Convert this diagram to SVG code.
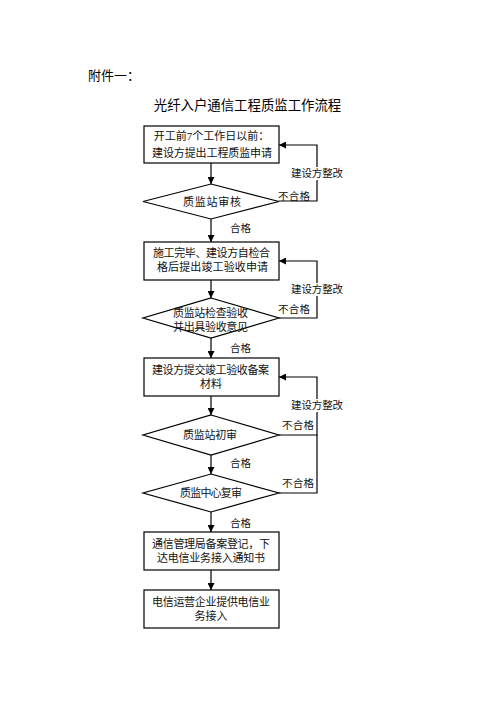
<svg xmlns="http://www.w3.org/2000/svg" width="496" height="702" viewBox="0 0 496 702">
<defs>
<style>
.node rect, .node polygon { fill: #fff; stroke: #000; stroke-width: 1.2; }
.t { font-family: "Liberation Serif", "Noto Sans CJK SC", serif; font-size: 11px; fill: #111; text-anchor: middle; }
.lbl { font-family: "Liberation Serif", "Noto Sans CJK SC", serif; font-size: 10.5px; fill: #111; }
.hd { font-family: "Noto Sans CJK SC", sans-serif; fill: #000; }
.bg { fill: #fff; stroke: none; }
#connectors line, #connectors polyline { fill: none; stroke: #000; stroke-width: 1.2; }
</style>
<marker id="ah" viewBox="0 0 10 10" refX="10" refY="5" markerWidth="7" markerHeight="7" markerUnits="userSpaceOnUse" orient="auto">
<path d="M0,0 L10,5 L0,10 z" fill="#000"/>
</marker>
</defs>
<rect width="496" height="702" fill="#fff"/>
<text class="hd" x="88" y="80" font-size="13">附件一：</text>
<text class="hd" x="247.5" y="110" font-size="13.4" text-anchor="middle">光纤入户通信工程质监工作流程</text>

<g id="connectors">
<line x1="211" y1="163" x2="211" y2="184" marker-end="url(#ah)"/>
<line x1="211" y1="219" x2="211" y2="242" marker-end="url(#ah)"/>
<line x1="211" y1="280" x2="211" y2="298" marker-end="url(#ah)"/>
<line x1="211" y1="338" x2="211" y2="358" marker-end="url(#ah)"/>
<line x1="211" y1="396" x2="211" y2="415" marker-end="url(#ah)"/>
<line x1="211" y1="455" x2="211" y2="474" marker-end="url(#ah)"/>
<line x1="211" y1="512" x2="211" y2="532" marker-end="url(#ah)"/>
<line x1="211" y1="570" x2="211" y2="590" marker-end="url(#ah)"/>
<polyline points="279,201 317,201 317,145 279,145" marker-end="url(#ah)"/>
<polyline points="279,318 317,318 317,261 279,261" marker-end="url(#ah)"/>
<polyline points="279,435 317,435 317,377 279,377" marker-end="url(#ah)"/>
<polyline points="279,493 317,493 317,435"/>
<rect class="bg" x="290" y="167" width="54" height="13"/>
<rect class="bg" x="290" y="283" width="54" height="13"/>
<rect class="bg" x="290" y="399" width="54" height="13"/>
<text class="lbl" x="291" y="177" textLength="52" lengthAdjust="spacing">建设方整改</text>
<text class="lbl" x="278" y="200" textLength="32" lengthAdjust="spacing">不合格</text>
<text class="lbl" x="230" y="232" font-size="11">合格</text>
<text class="lbl" x="291" y="293" textLength="52" lengthAdjust="spacing">建设方整改</text>
<text class="lbl" x="278" y="313" textLength="32" lengthAdjust="spacing">不合格</text>
<text class="lbl" x="230" y="352" font-size="11">合格</text>
<text class="lbl" x="291" y="409" textLength="52" lengthAdjust="spacing">建设方整改</text>
<text class="lbl" x="282" y="429" textLength="32" lengthAdjust="spacing">不合格</text>
<text class="lbl" x="230" y="467" font-size="11">合格</text>
<text class="lbl" x="282" y="487" textLength="32" lengthAdjust="spacing">不合格</text>
<text class="lbl" x="230" y="527" font-size="11">合格</text>
</g>

<g id="n1" class="node">
<rect x="144" y="126" width="135" height="37"/>
<text class="t" x="211.5" y="140">开工前7个工作日以前：</text>
<text class="t" x="212" y="157" textLength="120" lengthAdjust="spacing">建设方提出工程质监申请</text>
</g>
<g id="n2" class="node">
<polygon points="211,184 279,201.5 211,219 143,201.5"/>
<text class="t" x="212" y="205.5" textLength="58" lengthAdjust="spacing">质监站审核</text>
</g>
<g id="n3" class="node">
<rect x="144" y="242" width="135" height="38"/>
<text class="t" x="211.5" y="257" textLength="117" lengthAdjust="spacing">施工完毕、建设方自检合</text>
<text class="t" x="212.5" y="271" textLength="111" lengthAdjust="spacing">格后提出竣工验收申请</text>
</g>
<g id="n4" class="node">
<polygon points="211,298 279,318 211,338 143,318"/>
<text class="t" x="210.5" y="317" textLength="75" lengthAdjust="spacing">质监站检查验收</text>
<text class="t" x="210.5" y="331" textLength="75" lengthAdjust="spacing">并出具验收意见</text>
</g>
<g id="n5" class="node">
<rect x="144" y="358" width="135" height="38"/>
<text class="t" x="210.5" y="374" textLength="117" lengthAdjust="spacing">建设方提交竣工验收备案</text>
<text class="t" x="211" y="388">材料</text>
</g>
<g id="n6" class="node">
<polygon points="211,415 279,435 211,455 143,435"/>
<text class="t" x="210" y="439" textLength="54" lengthAdjust="spacing">质监站初审</text>
</g>
<g id="n7" class="node">
<polygon points="211,474 279,493 211,512 143,493"/>
<text class="t" x="211" y="497" textLength="62" lengthAdjust="spacing">质监中心复审</text>
</g>
<g id="n8" class="node">
<rect x="144" y="532" width="135" height="38"/>
<text class="t" x="211" y="548" textLength="118" lengthAdjust="spacing">通信管理局备案登记，下</text>
<text class="t" x="211" y="562" textLength="108" lengthAdjust="spacing">达电信业务接入通知书</text>
</g>
<g id="n9" class="node">
<rect x="144" y="590" width="135" height="38"/>
<text class="t" x="211" y="606" textLength="118" lengthAdjust="spacing">电信运营企业提供电信业</text>
<text class="t" x="211" y="620">务接入</text>
</g>
</svg>
